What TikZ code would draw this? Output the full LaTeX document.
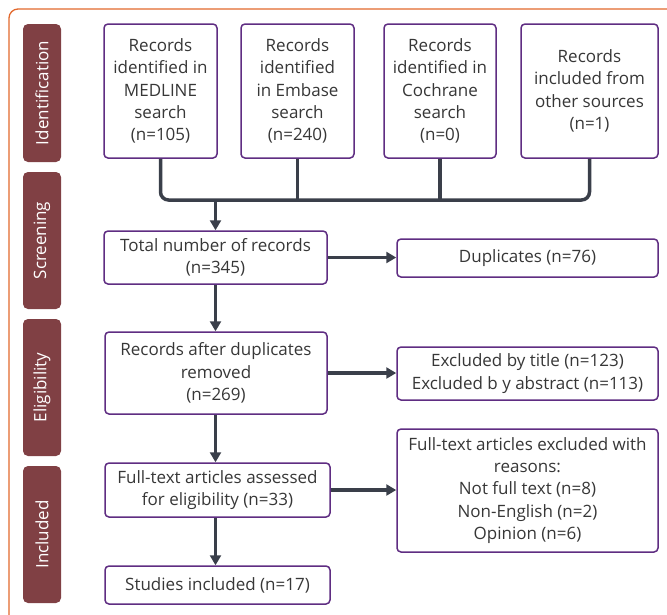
\documentclass[tikz,border=0pt]{standalone}
\usepackage{fontspec}
\setsansfont{Open Sans}
\usepackage{tikz}
\usetikzlibrary{arrows.meta}
\usetikzlibrary{positioning}
\usetikzlibrary{calc}
\definecolor{phasecol}{RGB}{128,64,68}
\definecolor{boxline}{RGB}{95,45,130}
\definecolor{flowcol}{RGB}{58,63,74}
\definecolor{framecol}{RGB}{226,104,44}
\definecolor{txtcol}{RGB}{55,55,55}
\tikzstyle{box} = [rectangle, draw=boxline, line width=1.5pt, rounded corners=4pt, fill=white, text=txtcol, align=center, inner sep=2pt]
\tikzstyle{phase} = [rectangle, fill=phasecol, rounded corners=5pt, text=white, rotate=90, minimum height=38pt, inner sep=0pt]
\tikzstyle{flowline} = [draw=flowcol, line width=3.5pt, -{Triangle[length=10pt,width=11pt]}]
\tikzstyle{bus} = [draw=flowcol, line width=3.5pt]

\begin{document}
\begin{tikzpicture}[x=1pt, y=-1pt, font=\sffamily\fontsize{17}{22.3}\selectfont]
	\useasboundingbox (0,0) rectangle (667,614);
	
	% frame
	\draw[framecol, line width=1.3pt, rounded corners=9pt] (9,616) -- (9,9) -- (669,9);
	
	% phases
	\node[phase, minimum width=138pt](Ph-Ident) at (42,93){Identification};
	\node[phase, minimum width=137pt](Ph-Screen) at (42,240.5){Screening};
	\node[phase, minimum width=137pt](Ph-Elig) at (42,387.5){Eligibility};
	\node[phase, minimum width=137pt](Ph-Incl) at (42,534.5){Included};
	
	% sources
	\node[box, minimum width=113pt, minimum height=134pt](Rec-MEDLINE) at (160.5,91){Records\\identified in\\MEDLINE\\search\\(n=105)};
	\node[box, minimum width=113pt, minimum height=134pt](Rec-Embase) at (297.5,91){Records\\identified\\in Embase\\search\\(n=240)};
	\node[box, minimum width=112pt, minimum height=134pt](Rec-Cochrane) at (440,91){Records\\identified in\\Cochrane\\search\\(n=0)};
	\node[box, minimum width=137pt, minimum height=134pt](Rec-Other) at (589.5,91){Records\\included from\\other sources\\(n=1)};
	
	% main flow
	\node[box, minimum width=223pt, minimum height=53pt](Total) at (215.5,257.5){Total number of records\\(n=345)};
	\node[box, minimum width=222pt, minimum height=82pt](Rec-Dedup) at (216,373){Records after duplicates\\removed\\(n=269)};
	\node[box, minimum width=225pt, minimum height=54pt](Full-Text) at (217.5,490){Full-text articles assessed\\for eligibility (n=33)};
	\node[box, minimum width=225pt, minimum height=38pt](Studies) at (217.5,585){Studies included (n=17)};
	
	% exclusions
	\node[box, minimum width=261pt, minimum height=38pt](Dup) at (527.5,258){Duplicates (n=76)};
	\node[box, minimum width=261pt, minimum height=53pt](Excl-Abs) at (527.5,373.5){Excluded by title (n=123)\\Excluded b y abstract (n=113)};
	\node[box, minimum width=261pt, minimum height=123pt](Excl-Full) at (527.5,490.5){Full-text articles excluded with\\reasons:\\Not full text (n=8)\\Non-English (n=2)\\Opinion (n=6)};
	
	% bus
	\coordinate (Bus) at (0,200);
	\draw[bus, rounded corners=8pt] (Rec-MEDLINE.south) |- (Bus -| Rec-Other.south) -- (Rec-Other.south);
	\draw[bus] (Rec-Embase.south) -- (Rec-Embase.south |- Bus);
	\draw[bus] (Rec-Cochrane.south) -- (Rec-Cochrane.south |- Bus);
	\draw[flowline] (Total.north |- Bus) -- (Total.north);
	
	\draw[flowline] (Total.south) -- (Total.south |- Rec-Dedup.north);
	\draw[flowline] (Total.south |- Rec-Dedup.south) -- (Total.south |- Full-Text.north);
	\draw[flowline] (Total.south |- Full-Text.south) -- (Total.south |- Studies.north);
	
	\draw[flowline] (Total.east) -- (Total.east -| Dup.west);
	\draw[flowline] (Rec-Dedup.east) -- (Rec-Dedup.east -| Excl-Abs.west);
	\draw[flowline] (Full-Text.east) -- (Full-Text.east -| Excl-Full.west);

\end{tikzpicture}
\end{document}
